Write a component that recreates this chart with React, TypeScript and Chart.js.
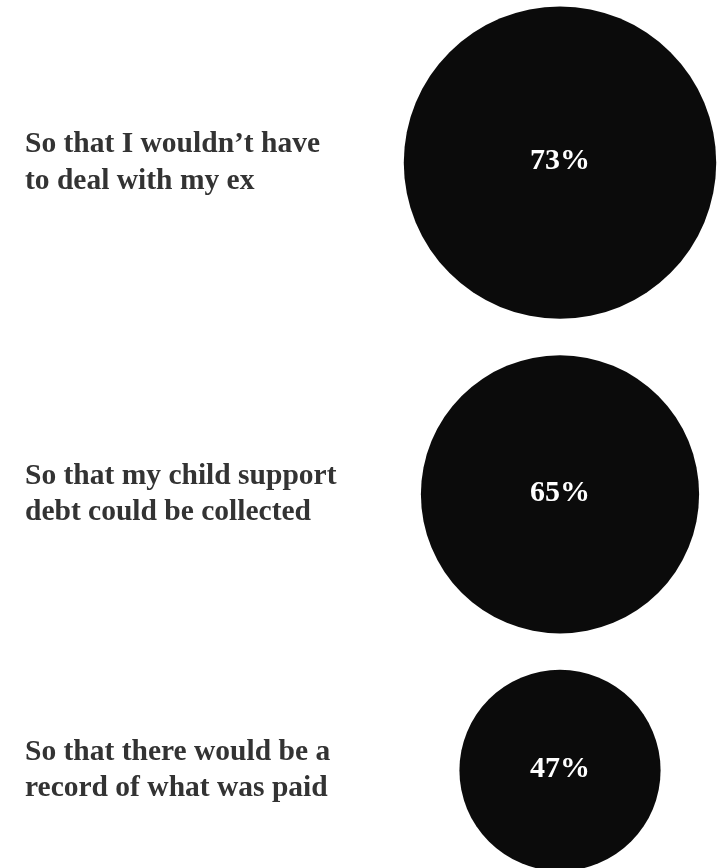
import React, { useEffect, useRef } from "react";
import { Chart, registerables, BubbleController } from "chart.js";

// Bubble controller that does not pad the chart area by the bubble size
class FlatBubbleController extends (BubbleController as any) {
  getMaxOverflow() {
    return false;
  }
}
(FlatBubbleController as any).id = "flatBubble";
(FlatBubbleController as any).defaults = (BubbleController as any).defaults;
(FlatBubbleController as any).overrides = (BubbleController as any).overrides;

Chart.register(...registerables, FlatBubbleController as any);

const labels: string[][] = [
  ["So that I wouldn’t have", "to deal with my ex"],
  ["So that my child support", "debt could be collected"],
  ["So that there would be a", "record of what was paid"],
];
const values: number[] = [73, 65, 47];

const GAP = 17; // space between circles, in value units
const TOP = 3;
const Y_MAX = 405.6;
const CHART_H = 868;
const PX_PER_UNIT = CHART_H / Y_MAX;

function centers(vals: number[]): number[] {
  const out: number[] = [];
  let acc = TOP;
  vals.forEach((v) => {
    out.push(acc + v);
    acc += 2 * v + GAP;
  });
  return out;
}

export default function App() {
  const ref = useRef<HTMLCanvasElement | null>(null);
  useEffect(() => {
    if (!ref.current) return;
    const ys = centers(values);
    const pctPlugin = {
      id: "pct",
      afterDatasetsDraw(chart: any) {
        const ctx = chart.ctx;
        const meta = chart.getDatasetMeta(0);
        ctx.save();
        ctx.fillStyle = "#ffffff";
        ctx.font = "bold 30px 'Liberation Serif', serif";
        ctx.textAlign = "center";
        ctx.textBaseline = "middle";
        meta.data.forEach((el: any, i: number) => {
          ctx.fillText(values[i] + "%", el.x, el.y - 1);
        });
        ctx.restore();
      },
    };
    const chart = new Chart(ref.current, {
      type: "flatBubble" as any,
      data: {
        datasets: [
          {
            data: values.map((v, i) => ({ x: 0, y: ys[i], r: v * PX_PER_UNIT })),
            backgroundColor: "#0b0b0b",
            hoverBackgroundColor: "#0b0b0b",
            borderWidth: 0,
            hoverBorderWidth: 0,
            hoverRadius: 0,
            clip: false,
          } as any,
        ],
      },
      options: {
        animation: false,
        responsive: true,
        maintainAspectRatio: false,
        layout: { padding: { left: 25, right: 0, top: 0, bottom: 0 } },
        plugins: { legend: { display: false }, tooltip: { enabled: false } },
        events: [],
        scales: {
          x: { type: "linear", display: false, min: -1, max: 1 },
          y: {
            type: "linear",
            display: true,
            position: "left",
            reverse: true,
            min: 0,
            max: Y_MAX,
            grid: { display: false },
            border: { display: false },
            afterBuildTicks: (scale: any) => {
              scale.ticks = ys.map((v) => ({ value: v }));
            },
            afterFit: (scale: any) => {
              scale.width = 377;
              scale.paddingTop = 0;
              scale.paddingBottom = 0;
            },
            ticks: {
              crossAlign: "far",
              padding: 0,
              color: "#333333",
              font: { family: "'Liberation Serif', serif", size: 29.5, weight: "bold", lineHeight: 1.25 },
              callback: (_v: any, i: number) => labels[i],
            },
          },
        },
      } as any,
      plugins: [pctPlugin],
    });
    return () => chart.destroy();
  }, []);
  return (
    <div style={{ position: "fixed", left: 0, top: 0, width: 718, height: CHART_H, background: "#ffffff" }}>
      <canvas ref={ref} />
    </div>
  );
}
